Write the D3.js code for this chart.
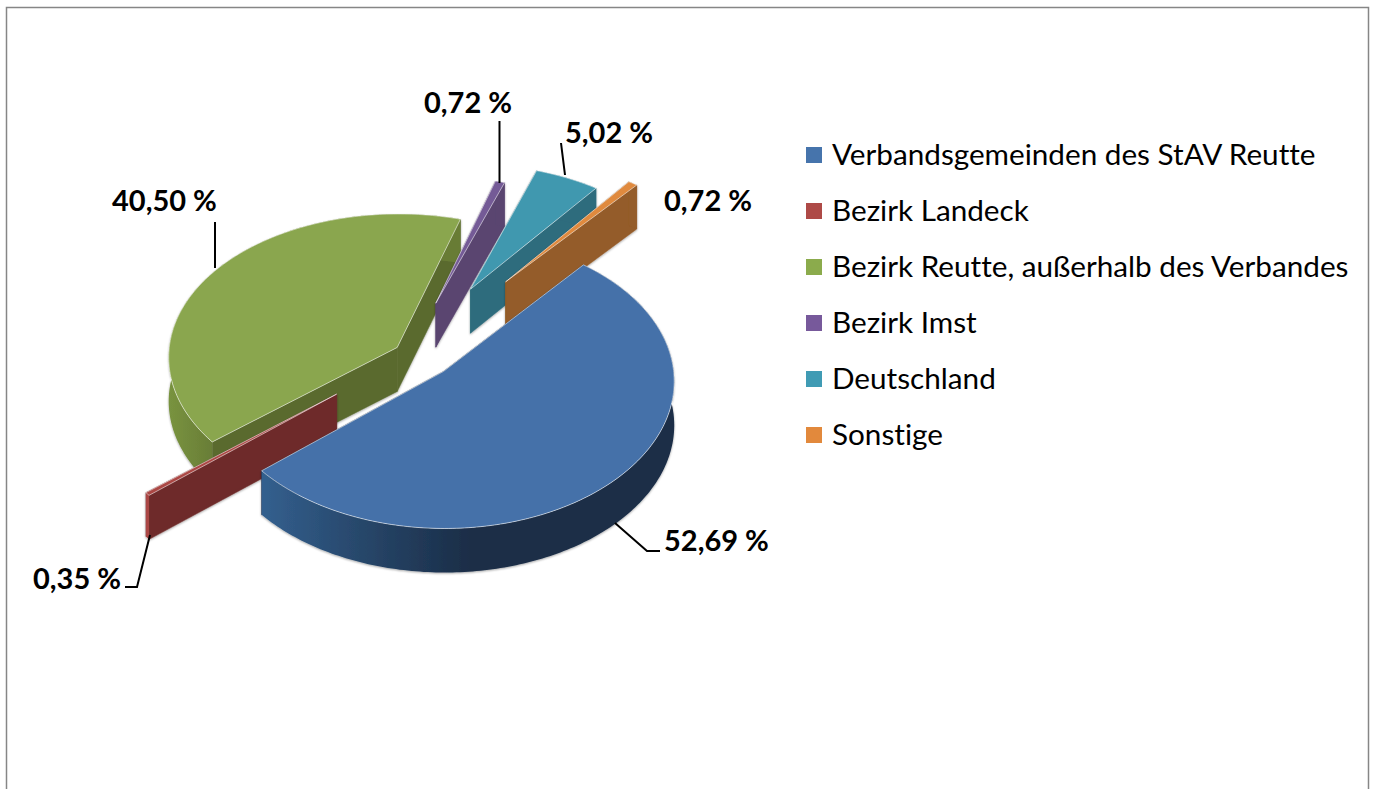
<!DOCTYPE html>
<html>
  <head>
    <title>Herkunft</title>
    <meta charset="utf-8">
    <style>
      html, body { margin: 0; padding: 0; background: #fff; overflow: hidden; }
      svg { display: block; }
      text { font-family: Lato, Carlito, sans-serif; fill: #000; font-variant-ligatures: none; }
      .legend text { font-size: 29.7px; }
      .value { font-size: 29px; font-weight: 700; }
      .leader { fill: none; stroke: #000; stroke-width: 2; }
    </style>
  </head>
  <body>
  <svg id="chart" width="1378" height="789"></svg>
  <script src="https://d3js.org/d3.v7.min.js"></script>
  <script>
    // data
    var categories = ["Verbandsgemeinden des StAV Reutte", "Bezirk Landeck", "Bezirk Reutte, außerhalb des Verbandes", "Bezirk Imst", "Deutschland", "Sonstige"];
    var shares = [52.69, 0.35, 40.50, 0.72, 5.02, 0.72];

    // colours per slice: top face, flat cut wall, curved wall
    var topColors = ["#4571a9", "#ab4744", "#8aa64e", "#745a96", "#4098af", "#e08a3e"];
    var legendColors = ["#4674ac", "#ae4a47", "#8bab4c", "#77599b", "#409bb4", "#e2893c"];
    var wallColors = ["#1b2e49", "#6e2c2b", "#5a6a2e", "#5a4570", "#2f6c7d", "#945b29"];
    var curveColors = ["url(#blueWall)", "#ab4744", "url(#greenWall)", "#5a4570", "#2f6c7d", "#945b29"];

    // how far each slice is pulled out, and how much the pull veers off its middle (degrees)
    var explode = [30, 101, 30, 90, 123, 152];
    var veer = [0, 6, 0, -9, -4.4, -4];
    var drawOrder = [2, 3, 4, 5, 1, 0];

    var svg = d3.select("#chart");
    var defs = svg.append("defs");

    function gradient(id, x1, x2, stops) {
      var g = defs.append("linearGradient").attr("id", id)
        .attr("gradientUnits", "userSpaceOnUse")
        .attr("x1", x1).attr("x2", x2).attr("y1", 0).attr("y2", 0);
      stops.forEach(function(s) {
        g.append("stop").attr("offset", s[0]).attr("stop-color", s[1]);
      });
    }
    gradient("blueWall", 260, 470, [[0, "#33608f"], [0.5, "#274669"], [1, "#1a2d47"]]);
    gradient("greenWall", 165, 215, [[0, "#7a9540"], [1, "#687c36"]]);

    var shadow = defs.append("filter").attr("id", "soft")
      .attr("x", "-10%").attr("y", "-10%").attr("width", "120%").attr("height", "120%");
    shadow.append("feDropShadow").attr("dx", 0).attr("dy", 1)
      .attr("stdDeviation", 1.2).attr("flood-color", "#000").attr("flood-opacity", 0.35);

    // frame, runs off the bottom of the page
    svg.append("rect").attr("x", 6.5).attr("y", 7.5).attr("width", 1362).attr("height", 800)
      .attr("fill", "#fff").attr("stroke", "#868686").attr("stroke-width", 1.5);

    // tilted pie with a little perspective
    var cx = 422, cy = 358, radius = 229, tilt = 0.6335, depth = 44, persX = 3700, persY = 3300;

    function project(X, Y, z) {
      return [cx + X * (1 + Y / persX), cy + tilt * Y * (1 + Y / persY) + z];
    }

    var pie = d3.pie().sort(null)
      .startAngle(40 * Math.PI / 180)
      .endAngle(400 * Math.PI / 180);
    var slices = pie(shares);
    var line = d3.line();

    function rimPoints(s, ox, oy, z) {
      var n = Math.max(2, Math.ceil((s.endAngle - s.startAngle) * 60)), pts = [];
      for (var i = 0; i <= n; i++) {
        var a = s.startAngle + (s.endAngle - s.startAngle) * i / n;
        pts.push(project(ox + radius * Math.sin(a), oy - radius * Math.cos(a), z));
      }
      return pts;
    }

    var pieLayer = svg.append("g");

    drawOrder.forEach(function(i) {
      var s = slices[i];
      var mid = (s.startAngle + s.endAngle) / 2 + veer[i] * Math.PI / 180;
      var ox = explode[i] * Math.sin(mid), oy = -explode[i] * Math.cos(mid);
      var apexTop = project(ox, oy, 0), apexBot = project(ox, oy, depth);
      var rimTop = rimPoints(s, ox, oy, 0), rimBot = rimPoints(s, ox, oy, depth);
      var first = rimTop[0], last = rimTop[rimTop.length - 1];
      var firstBot = rimBot[0], lastBot = rimBot[rimBot.length - 1];
      var g = pieLayer.append("g");

      // all walls share one shadow, so they don't draw lines across each other
      var walls = g.append("g").attr("filter", "url(#soft)");

      walls.selectAll("path")
        .data([
          [apexTop, first, firstBot, apexBot],
          [apexTop, last, lastBot, apexBot]
        ])
        .enter().append("path")
        .attr("d", function(d) { return line(d) + "Z"; })
        .attr("fill", wallColors[i])
        .attr("stroke", wallColors[i]).attr("stroke-width", 0.5);

      walls.append("path")
        .attr("d", line(rimTop.concat(rimBot.slice().reverse())) + "Z")
        .attr("fill", curveColors[i]);

      g.append("path")
        .attr("d", line([apexTop].concat(rimTop)) + "Z")
        .attr("fill", topColors[i])
        .attr("stroke", "#fff").attr("stroke-opacity", 0.55).attr("stroke-width", 1)
        .attr("stroke-linejoin", "round");
    });

    // value labels and their leaders
    var fmt = d3.formatLocale({decimal: ",", thousands: ".", grouping: [3], currency: ["", " €"]}).format(".2f");
    var labelX = [664, 33, 112, 424, 565, 664];
    var labelY = [551, 589, 211, 113, 143, 211];
    var leaders = [
      [[615, 523], [647, 551], [660, 551]],
      [[150, 535], [137, 587], [125, 587]],
      [[215, 222], [215, 268]],
      [[499.5, 121], [499.5, 183]],
      [[561, 143], [565, 175]],
      []
    ];

    svg.append("g").selectAll("path").data(leaders).enter().append("path")
      .attr("class", "leader")
      .attr("d", function(d) { return d.length ? line(d) : null; });

    svg.append("g").selectAll("text").data(shares).enter().append("text")
      .attr("class", "value")
      .attr("x", function(d, i) { return labelX[i]; })
      .attr("y", function(d, i) { return labelY[i]; })
      .text(function(d) { return fmt(d) + " %"; });

    // legend
    var legendY = d3.scaleLinear().domain([0, 5]).range([155, 435]);
    var legend = svg.append("g").attr("class", "legend").selectAll("g")
      .data(categories).enter().append("g")
      .attr("transform", function(d, i) { return "translate(806," + legendY(i) + ")"; });

    legend.append("rect").attr("x", 0).attr("y", -8).attr("width", 16).attr("height", 16)
      .attr("fill", function(d, i) { return legendColors[i]; });

    legend.append("text").attr("x", 26).attr("y", 10)
      .text(function(d) { return d; });
  </script>
  </body>
</html>
